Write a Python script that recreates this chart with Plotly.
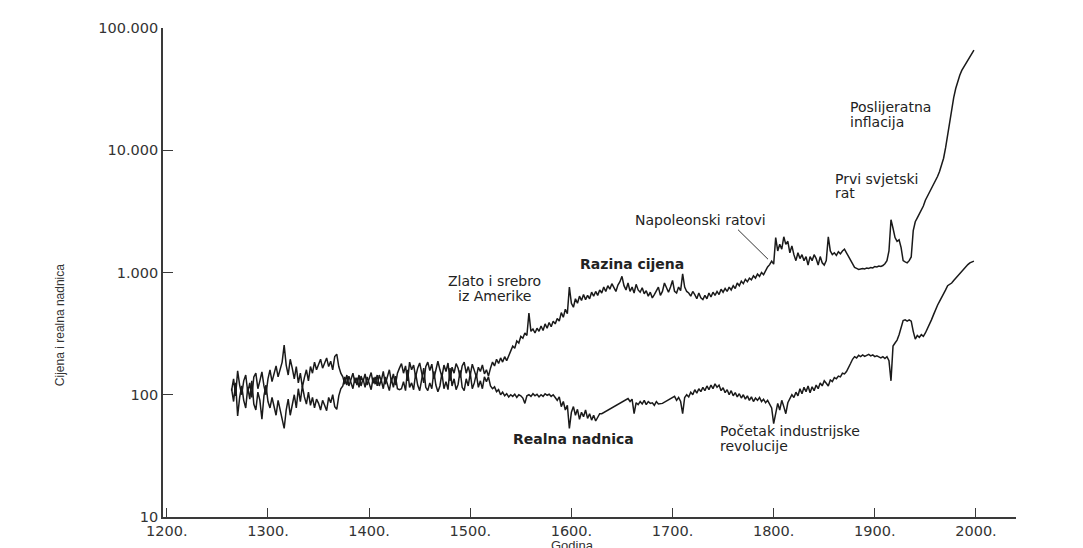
import plotly.graph_objects as go

# ---- data ----
years = list(range(1264, 2000, 2))

price = [
    108, 135, 98,
    157, 120, 100, 130, 145,
    105, 125, 95, 140, 150,
    112, 130, 154, 118, 100,
    135, 160, 128, 150, 172,
    140, 158, 185, 255, 175,
    145, 195, 165, 135, 170,
    125, 150, 115, 138, 160,
    130, 170, 150, 185, 160,
    175, 195, 165, 180, 200,
    170, 188, 160, 205, 215,
    170, 150, 140, 122, 145,
    118, 132, 150, 125, 138,
    115, 142, 128, 148, 120,
    135, 152, 124, 140, 118,
    145, 130, 155, 122, 140,
    160, 128, 148, 120, 150,
    165, 180, 150, 172, 130,
    185, 160, 175, 140, 165,
    182, 150, 125, 170, 185,
    158, 178, 135, 165, 188,
    160, 140, 175, 155, 182,
    130, 168, 150, 180, 165,
    138, 172, 185, 150, 170,
    145, 178, 160, 140, 168,
    155, 175, 148, 160, 142,
    165, 185, 172, 195, 180,
    200, 185, 205, 190, 210,
    225, 250, 240, 275, 265,
    300, 290, 320, 305, 465,
    330, 345, 320, 350, 330,
    365, 335, 380, 350, 390,
    360, 400, 380, 420, 400,
    470, 430, 500, 460, 760,
    560, 520, 610, 560, 640,
    590, 660, 600, 650, 610,
    690, 640, 700, 650, 720,
    680, 760, 700, 780, 730,
    810, 750, 700, 790, 840,
    930, 780, 720, 820, 700,
    760, 680, 800, 720, 690,
    750, 670, 710, 640, 690,
    620, 660, 700, 760, 650,
    700, 820, 740, 690, 760,
    860, 700, 680, 760, 710,
    975, 760, 700, 680, 640,
    700, 660, 610, 680, 620,
    600, 650, 610, 680, 630,
    690, 650, 700, 660, 730,
    690, 740, 700, 760, 720,
    780, 740, 820, 780, 850,
    810, 880, 840, 900, 870,
    940, 900, 970, 930, 1000,
    960, 1050, 1110, 1160, 1240,
    1170, 1930, 1500, 1700, 1550,
    1960, 1700, 1800, 1450, 1650,
    1400, 1250, 1450, 1300, 1400,
    1250, 1350, 1150, 1350, 1250,
    1400, 1300, 1150, 1350, 1200,
    1150, 1250, 1960, 1500, 1400,
    1450, 1380, 1480, 1420, 1500,
    1550, 1450, 1350, 1250, 1150,
    1100, 1080, 1060, 1070, 1080,
    1070, 1090, 1080, 1100, 1090,
    1120, 1110, 1130, 1120, 1140,
    1180, 1250, 1500, 2700, 2300,
    1930, 1800, 1850, 1600, 1250,
    1220, 1200, 1250, 1340, 2200,
    2600, 2800, 3000, 3200, 3500,
    3900, 4200, 4500, 4800, 5200,
    5600, 6100, 6700, 7500, 8600,
    10500, 13500, 17000, 22000, 27000,
    32000, 37000, 41000, 45000, 48000,
    51000, 54000, 58000, 62000, 66000,
]

wage = [
    112, 88, 125,
    67, 95, 118, 90, 78,
    115, 92, 130, 84, 75,
    105, 90, 63, 98, 120,
    88, 78, 95, 82, 68,
    90, 76, 66, 53, 75,
    92, 68, 80, 100, 78,
    112, 88, 118, 96, 84,
    105, 82, 95, 78, 92,
    85, 75, 90, 82, 74,
    95, 86, 100, 80, 76,
    98, 112, 118, 140, 120,
    142, 128, 112, 138, 120,
    145, 118, 135, 115, 140,
    125, 110, 138, 122, 145,
    118, 132, 112, 140, 125,
    108, 135, 115, 142, 112,
    110, 112, 128, 108, 160,
    115, 125, 110, 150, 120,
    108, 130, 165, 115, 108,
    125, 112, 155, 120, 106,
    118, 150, 112, 128, 110,
    165, 118, 135, 110, 122,
    158, 115, 108, 135, 118,
    150, 112, 125, 148, 115,
    130, 112, 140, 128, 140,
    118, 112, 116, 106, 110,
    100, 105, 98, 102, 96,
    100, 97, 101, 95, 100,
    98, 94, 85, 98, 100,
    97, 102, 98, 101, 96,
    100, 97, 102, 99, 101,
    97, 100, 95, 90, 96,
    80, 88, 75, 82, 53,
    72, 80, 68, 76, 63,
    72, 66, 75, 64, 70,
    62, 68, 61, 66, 70,
    70, None, None, None, None,
    None, None, None, None, None,
    None, None, None, 93, 88,
    92, 70, 86, 83, 88,
    84, 90, 83, 88, 85,
    86, 82, 88, 84, 85,
    85, None, None, None, None,
    None, 97, 90, 95, 88,
    70, 95, 100, 96, 105,
    100, 110, 103, 112, 106,
    115, 108, 118, 110, 120,
    112, 123, 115, 120, 108,
    114, 104, 110, 100, 108,
    98, 104, 96, 102, 94,
    100, 92, 98, 90, 96,
    88, 94, 90, 95, 88,
    92, 86, 90, 84, 78,
    58, 72, 85, 75, 90,
    80, 70, 86, 92, 100,
    95, 105, 98, 112, 102,
    115, 106, 118, 104, 116,
    108, 120, 112, 125, 118,
    130, 124, 118, 132, 128,
    138, 135, 142, 140, 150,
    148, 155, 165, 180, 195,
    205, 200, 210, 205, 212,
    206, 210, 214, 208, 212,
    205, 208, 204, 200, 205,
    198, 205, 190, 130, 250,
    265, 280, 310, 360, 405,
    410, 400, 410, 400, 330,
    285, 305, 295, 310, 300,
    320, 345, 370, 410, 450,
    500, 540, 580, 630, 680,
    720, 780, 800, 820, 860,
    900, 940, 980, 1030, 1080,
    1120, 1160, 1200, 1220, 1240,
]

x_ticks = [1200, 1300, 1400, 1500, 1600, 1700, 1800, 1900, 2000]
x_ticktext = ["1200.", "1300.", "1400.", "1500.", "1600.", "1700.", "1800.", "1900.", "2000."]
y_ticks = [10, 100, 1000, 10000, 100000]
y_ticktext = ["10", "100", "1.000", "10.000", "100.000"]

# ---- layout geometry ----
# the page body adds an 8px offset, so figure coords = window coords - 8
OFF = 8
W, H = 1083, 548
L, R, T, B = 163 - OFF, 1016 - OFF, 20 - OFF, 517 - OFF


def px(x):
    return (x - OFF - L) / (R - L)


def py(y):
    return (B - (y - OFF)) / (B - T)


INK = "#1a1a1a"
AX = "#3a3a3a"
FONT = "DejaVu Sans"

fig = go.Figure()
fig.add_trace(go.Scatter(x=years, y=price, mode="lines", name="Razina cijena",
                         line=dict(color=INK, width=1.5), connectgaps=True))
fig.add_trace(go.Scatter(x=years, y=wage, mode="lines", name="Realna nadnica",
                         line=dict(color=INK, width=1.5), connectgaps=True))

fig.update_layout(
    width=W, height=H,
    margin=dict(l=L, r=W - R, t=T, b=H - B, pad=0),
    plot_bgcolor="white", paper_bgcolor="white",
    showlegend=False,
    font=dict(family=FONT, color="#222", size=14),
)
fig.update_xaxes(
    range=[1196.2, 2039.6], tickvals=x_ticks, ticktext=x_ticktext,
    ticks="inside", ticklen=9, tickwidth=1.3, tickcolor=AX,
    showline=True, linecolor=AX, linewidth=1.6,
    showgrid=False, zeroline=False,
    tickfont=dict(family=FONT, size=14.5, color="#333"),
)
fig.update_yaxes(
    type="log", range=[1, 5], tickvals=y_ticks, ticktext=y_ticktext,
    ticks="inside", ticklen=10, tickwidth=1.3, tickcolor=AX,
    showline=True, linecolor=AX, linewidth=1.6,
    showgrid=False, zeroline=False,
    tickfont=dict(family=FONT, size=14.5, color="#333"),
)

labels = [
    ("Poslijeratna", 848, 100, "left"),
    ("inflacija", 848, 116, "left"),
    ("Prvi svjetski", 833, 173, "left"),
    ("rat", 833, 188, "left"),
    ("Napoleonski ratovi", 700, 215, "center"),
    ("<b>Razina cijena</b>", 632, 260, "center"),
    ("Zlato i srebro", 494, 277, "center"),
    ("iz Amerike", 494, 292, "center"),
    ("<b>Realna nadnica</b>", 573, 438, "center"),
    ("Početak industrijske", 718, 430, "left"),
    ("revolucije", 718, 445, "left"),
]
for text, x, y, anchor in labels:
    fig.add_annotation(text=text, x=px(x), y=py(y), xref="paper", yref="paper",
                       xanchor=anchor, yanchor="middle", showarrow=False,
                       font=dict(family=FONT, size=14, color="#222"))

fig.add_annotation(text="Cijena i realna nadnica", x=px(60), y=py(322),
                   xref="paper", yref="paper", textangle=-90, showarrow=False,
                   xanchor="center", yanchor="middle",
                   font=dict(family="Liberation Sans", size=12, color="#333"))
fig.add_annotation(text="Godina", x=px(572), y=py(546), xref="paper", yref="paper",
                   showarrow=False, xanchor="center", yanchor="middle",
                   font=dict(family="Liberation Sans", size=13, color="#333"))

fig.add_shape(type="line", xref="paper", yref="paper",
              x0=px(738), y0=py(225), x1=px(768), y1=py(255),
              line=dict(color="#333", width=1))

fig.write_html("out.html")
